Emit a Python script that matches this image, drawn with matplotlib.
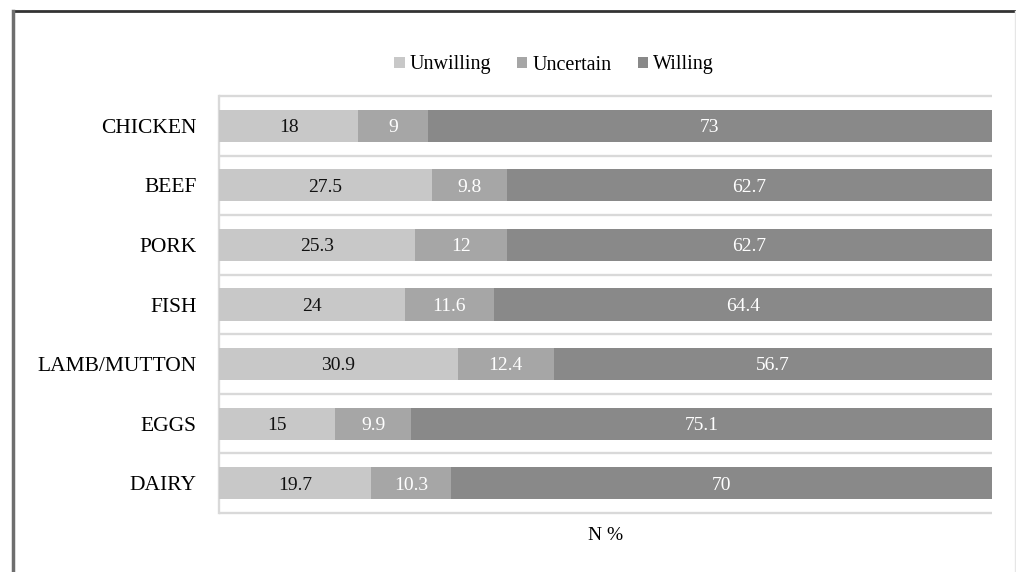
import matplotlib.pyplot as plt
from matplotlib.lines import Line2D

categories = ['CHICKEN', 'BEEF', 'PORK', 'FISH', 'LAMB/MUTTON', 'EGGS', 'DAIRY']
unwilling = [18, 27.5, 25.3, 24, 30.9, 15, 19.7]
uncertain = [9, 9.8, 12, 11.6, 12.4, 9.9, 10.3]
willing = [73, 62.7, 62.7, 64.4, 56.7, 75.1, 70]

series_names = ['Unwilling', 'Uncertain', 'Willing']
colors = ['#c8c8c8', '#a6a6a6', '#898989']
text_colors = ['#111111', 'white', 'white']

plt.rcParams['font.family'] = ['Liberation Serif', 'DejaVu Serif']

fig = plt.figure(figsize=(10.16, 5.72), dpi=100)
ax = fig.add_axes([219 / 1016, 1 - 513 / 572, (992 - 219) / 1016, (513 - 96) / 572])

ypos = list(range(len(categories)))
left = [0] * len(categories)
for vals, name, col, tcol in zip([unwilling, uncertain, willing], series_names, colors, text_colors):
    bars = ax.barh(ypos, vals, left=left, height=0.54, color=col, label=name, zorder=3)
    for b, v in zip(bars, vals):
        ax.text(b.get_x() + b.get_width() / 2, b.get_y() + b.get_height() / 2 + 0.03, f'{v:g}',
                ha='center', va='center', color=tcol, fontsize=14, zorder=4)
    left = [a + b for a, b in zip(left, vals)]

ax.set_xlim(0, 100)
ax.set_ylim(len(categories) - 0.5, -0.5)
ax.set_yticks(ypos)
ax.set_yticklabels(categories, fontsize=15.5)
ax.tick_params(axis='y', length=0, pad=16)
ax.set_xticks([])

# row separators
ax.hlines([k - 0.5 for k in range(len(categories) + 1)], 0, 100, color='#d9d9d9',
          linewidth=1.7, clip_on=False, zorder=1)

for s in ['top', 'right', 'bottom']:
    ax.spines[s].set_visible(False)
ax.spines['left'].set_color('#d9d9d9')
ax.spines['left'].set_linewidth(1.7)

ax.set_xlabel('N %', fontsize=14, labelpad=10)

fig.legend(loc='center', bbox_to_anchor=(554 / 1016, 1 - 65 / 572), ncol=3, frameon=False,
           fontsize=14.5, handlelength=0.5, handleheight=0.5, handletextpad=0.25, columnspacing=1.3)

# outer frame
fig.add_artist(Line2D([13 / 1016, 1], [1 - 11 / 572, 1 - 11 / 572], color='#333333', linewidth=2,
                      transform=fig.transFigure))
fig.add_artist(Line2D([13 / 1016, 13 / 1016], [0, 1 - 11 / 572], color='#6e6e6e', linewidth=2.5,
                      transform=fig.transFigure))
fig.add_artist(Line2D([1015 / 1016, 1015 / 1016], [0, 1 - 11 / 572], color='#e6e6e6', linewidth=1,
                      transform=fig.transFigure))

fig.savefig('out.png', dpi=100)
